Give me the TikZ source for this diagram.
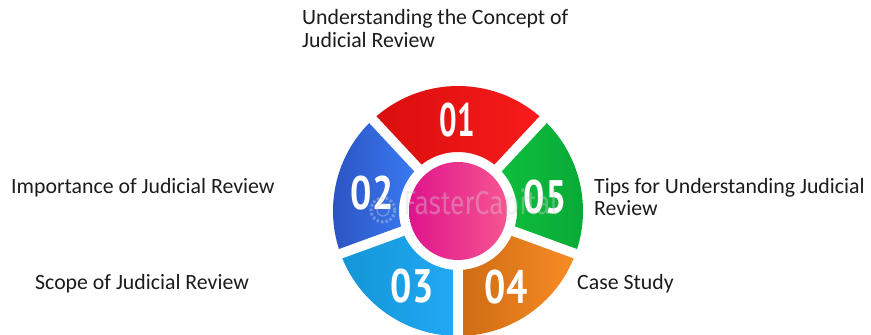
\documentclass[tikz,border=0pt]{standalone}
\usepackage{fontspec}
\setmainfont{Carlito}
\newfontfamily\digitfont{PT Sans Bold}
\newfontfamily\markfont{Fira Sans}
\definecolor{labelink}{HTML}{1C1C1C}
\definecolor{markgrey}{HTML}{D8D4D6}
\tikzset{
  labeltext/.style={anchor=base west,inner sep=0pt,text=labelink,font=\fontsize{21.8}{21.8}\selectfont},
  digit/.style={inner sep=0pt,text=white,font=\fontsize{47}{47}\digitfont},
  watermark/.style={inner sep=0pt,text=markgrey,text opacity=.38,font=\fontsize{33}{33}\markfont}
}
\newcommand{\ringseg}[4]{%
  \path[left color=#3,right color=#4]
    ({458+125*cos(#1+2.3)},{124+125*sin(#1+2.3)})
    arc[start angle=#1+2.3,end angle=#2-2.3,radius=125]
    -- ({458+59*cos(#2-4.9)},{124+59*sin(#2-4.9)})
    arc[start angle=#2-4.9,end angle=#1+4.9,radius=59]
    -- cycle;}
\definecolor{redL}{HTML}{D90E0E}\definecolor{redR}{HTML}{F91B1B}
\definecolor{blueL}{HTML}{2A50BE}\definecolor{blueR}{HTML}{3A7AF2}
\definecolor{skyL}{HTML}{1396D6}\definecolor{skyR}{HTML}{22A8F4}
\definecolor{orangeL}{HTML}{CF6C14}\definecolor{orangeR}{HTML}{F78C24}
\definecolor{greenL}{HTML}{0DBE3C}\definecolor{greenR}{HTML}{08A836}
\definecolor{pinkL}{HTML}{DF148C}\definecolor{pinkR}{HTML}{F65592}
\begin{document}
\begin{tikzpicture}[x=1pt,y=1pt]
\useasboundingbox[fill=white] (0,0) rectangle (871,335);
\begin{scope}
\clip (0,0) rectangle (871,335);
\ringseg{47}{133}{redL}{redR}
\ringseg{133}{200}{blueL}{blueR}
\ringseg{200}{270}{skyL}{skyR}
\ringseg{270}{340}{orangeL}{orangeR}
\ringseg{340}{407}{greenL}{greenR}
\path[left color=pinkL,right color=pinkR] (458,124) circle[radius=49];
\end{scope}
\node[digit] (d1) at (457,215) {\scalebox{.66}[1]{01}};
\node[digit] (d2) at (372,142) {\scalebox{.8}[1]{02}};
\node[digit] (d3) at (412,49) {\scalebox{.8}[1]{03}};
\node[digit] (d4) at (506,48) {\scalebox{.8}[1]{04}};
\node[digit] (d5) at (545,138) {\scalebox{.8}[1]{05}};
\draw[markgrey,opacity=.4,line width=3pt,dash pattern=on 2.5pt off 2pt] (383,125) circle[radius=12];
\draw[markgrey,opacity=.4,line width=1.2pt] (383,125) circle[radius=6];
\node[watermark,anchor=west] (wm) at (403,130) {\scalebox{.8}[1]{FasterCapital}};
\node[labeltext] (t1a) at (302,310) {Understanding the Concept of};
\node[labeltext] (t1b) at (302,287) {Judicial Review};
\node[labeltext] (t2) at (11,141) {Importance of Judicial Review};
\node[labeltext] (t3) at (35,45.5) {Scope of Judicial Review};
\node[labeltext] (t4) at (577,45.5) {Case Study};
\node[labeltext] (t5a) at (594,141) {Tips for Understanding Judicial};
\node[labeltext] (t5b) at (594,119) {Review};
\end{tikzpicture}
\end{document}
